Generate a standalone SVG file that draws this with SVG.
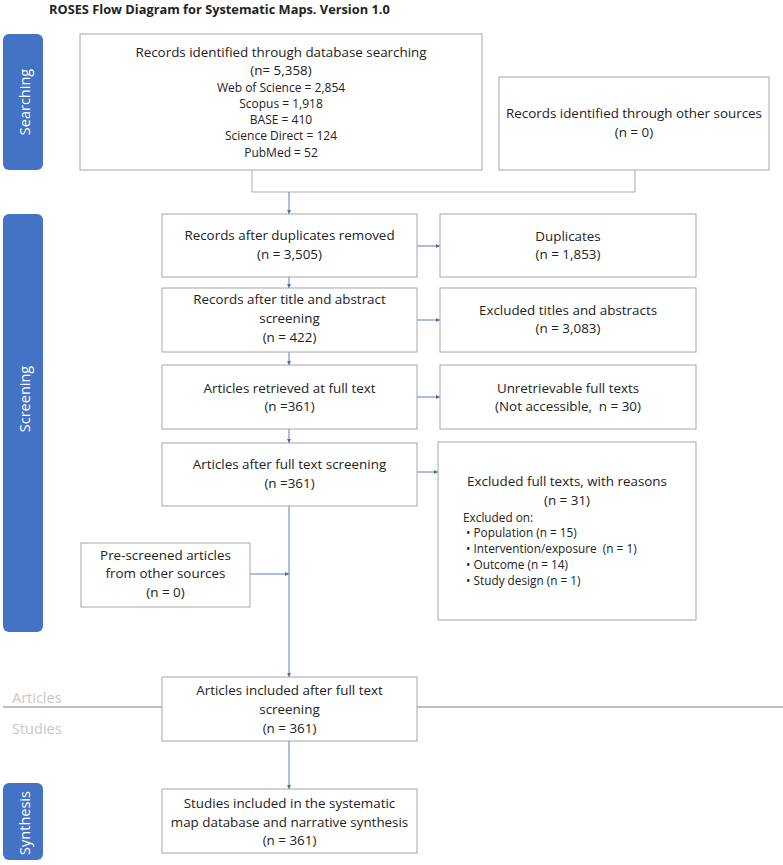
<svg xmlns="http://www.w3.org/2000/svg" width="783" height="865" viewBox="0 0 783 865">
<style>
.bg{fill:#ffffff}
.box{fill:#ffffff;stroke:#a6a6a6;stroke-width:1}
.side{fill:#4472c4}
.sidet{font-family:"Open Sans","Liberation Sans",sans-serif;font-size:14.5px;fill:#ffffff;text-anchor:middle;dominant-baseline:central}
.t{font-family:"Open Sans","Liberation Sans",sans-serif;font-size:13.4px;fill:#222222;text-anchor:middle}
.s{font-family:"Open Sans","Liberation Sans",sans-serif;font-size:12px;fill:#222222;text-anchor:middle}
.l{font-family:"Open Sans","Liberation Sans",sans-serif;font-size:11.8px;fill:#222222;white-space:pre}
.title{font-family:"Open Sans","Liberation Sans",sans-serif;font-size:12.8px;font-weight:bold;fill:#222222}
.sep{stroke:#bfbfbf;stroke-width:2;fill:none}
.sept{font-family:"Open Sans","Liberation Sans",sans-serif;font-size:14.5px;fill:#c8c8c8}
.br{stroke:#a3abbb;stroke-width:1;fill:none}
.ar{stroke:#5b7fb8;stroke-width:1;fill:none;marker-end:url(#ah)}
</style>
<defs>
<marker id="ah" viewBox="0 0 6 6" refX="6" refY="3" markerWidth="4" markerHeight="4" orient="auto" markerUnits="userSpaceOnUse">
<path d="M0,0 L6,3 L0,6 Z" fill="#4a6fa5"/>
</marker>
</defs>
<rect class="bg" x="0" y="0" width="783" height="865"/>
<text class="title" x="49" y="14">ROSES Flow Diagram for Systematic Maps. Version 1.0</text>

<g id="side-searching">
<rect class="side" x="3" y="34" width="40" height="136" rx="6"/>
<text class="sidet" transform="translate(24,102) rotate(-90)">Searching</text>
</g>
<g id="side-screening">
<rect class="side" x="3" y="214" width="40" height="418" rx="6"/>
<text class="sidet" transform="translate(24,399) rotate(-90)">Screening</text>
</g>
<g id="side-synthesis">
<rect class="side" x="3" y="783" width="40" height="77" rx="6"/>
<text class="sidet" transform="translate(24,823) rotate(-90)">Synthesis</text>
</g>

<g id="separator">
<line class="sep" x1="3" y1="707" x2="162" y2="707"/>
<line class="sep" x1="417" y1="707" x2="783" y2="707"/>
<text class="sept" x="12" y="703">Articles</text>
<text class="sept" x="12" y="734">Studies</text>
</g>

<g id="connectors">
<path class="br" d="M252,170 V192 H635 V170"/>
<path class="ar" d="M289,192 V214"/>
<path class="ar" d="M289,277 V288"/>
<path class="ar" d="M289,352 V365"/>
<path class="ar" d="M289,429 V443"/>
<path class="ar" d="M289,506 V677"/>
<path class="ar" d="M250,574 H289"/>
<path class="ar" d="M417,246 H440"/>
<path class="ar" d="M417,320 H440"/>
<path class="ar" d="M417,397 H440"/>
<path class="ar" d="M417,472 H438"/>
<path class="ar" d="M289,741 V789"/>
</g>

<g id="n-db">
<rect class="box" x="80" y="34" width="402" height="136"/>
<text class="t" x="281" y="57">Records identified through database searching</text>
<text class="t" x="281" y="75">(n= 5,358)</text>
<text class="s" x="281" y="92">Web of Science = 2,854</text>
<text class="s" x="281" y="108">Scopus = 1,918</text>
<text class="s" x="281" y="124">BASE = 410</text>
<text class="s" x="281" y="140">Science Direct = 124</text>
<text class="s" x="281" y="157">PubMed = 52</text>
</g>
<g id="n-other">
<rect class="box" x="499" y="77" width="270" height="93"/>
<text class="t" x="634" y="118">Records identified through other sources</text>
<text class="t" x="634" y="137">(n = 0)</text>
</g>
<g id="n-dedup">
<rect class="box" x="162" y="214" width="255" height="63"/>
<text class="t" x="289.5" y="240">Records after duplicates removed</text>
<text class="t" x="289.5" y="259">(n = 3,505)</text>
</g>
<g id="n-dups">
<rect class="box" x="440" y="214" width="256" height="63"/>
<text class="t" x="568" y="241">Duplicates</text>
<text class="t" x="568" y="259">(n = 1,853)</text>
</g>
<g id="n-ta">
<rect class="box" x="162" y="288" width="255" height="64"/>
<text class="t" x="289.5" y="304">Records after title and abstract</text>
<text class="t" x="289.5" y="323">screening</text>
<text class="t" x="289.5" y="342">(n = 422)</text>
</g>
<g id="n-ta-ex">
<rect class="box" x="440" y="288" width="256" height="64"/>
<text class="t" x="568" y="315">Excluded titles and abstracts</text>
<text class="t" x="568" y="333">(n = 3,083)</text>
</g>
<g id="n-ret">
<rect class="box" x="162" y="365" width="255" height="64"/>
<text class="t" x="289.5" y="393">Articles retrieved at full text</text>
<text class="t" x="289.5" y="411">(n =361)</text>
</g>
<g id="n-unret">
<rect class="box" x="440" y="365" width="256" height="64"/>
<text class="t" x="568" y="393">Unretrievable full texts</text>
<text class="t" x="568" y="411" xml:space="preserve">(Not accessible,  n = 30)</text>
</g>
<g id="n-ft">
<rect class="box" x="162" y="443" width="255" height="63"/>
<text class="t" x="289.5" y="469">Articles after full text screening</text>
<text class="t" x="289.5" y="488">(n =361)</text>
</g>
<g id="n-ft-ex">
<rect class="box" x="438" y="442" width="258" height="178"/>
<text class="t" x="567" y="486">Excluded full texts, with reasons</text>
<text class="t" x="567" y="505">(n = 31)</text>
<text class="l" x="463" y="522">Excluded on:</text>
<text class="l" x="466" y="537">• Population (n = 15)</text>
<text class="l" x="466" y="553" xml:space="preserve">• Intervention/exposure  (n = 1)</text>
<text class="l" x="466" y="569">• Outcome (n = 14)</text>
<text class="l" x="466" y="585">• Study design (n = 1)</text>
</g>
<g id="n-pre">
<rect class="box" x="81" y="543" width="169" height="64"/>
<text class="t" x="165.5" y="560">Pre-screened articles</text>
<text class="t" x="165.5" y="578">from other sources</text>
<text class="t" x="165.5" y="597">(n = 0)</text>
</g>
<g id="n-incl">
<rect class="box" x="162" y="677" width="255" height="64"/>
<text class="t" x="289.5" y="695">Articles included after full text</text>
<text class="t" x="289.5" y="714">screening</text>
<text class="t" x="289.5" y="733">(n = 361)</text>
</g>
<g id="n-final">
<rect class="box" x="162" y="789" width="255" height="64"/>
<text class="t" x="289.5" y="808">Studies included in the systematic</text>
<text class="t" x="289.5" y="827">map database and narrative synthesis</text>
<text class="t" x="289.5" y="845">(n = 361)</text>
</g>
</svg>
